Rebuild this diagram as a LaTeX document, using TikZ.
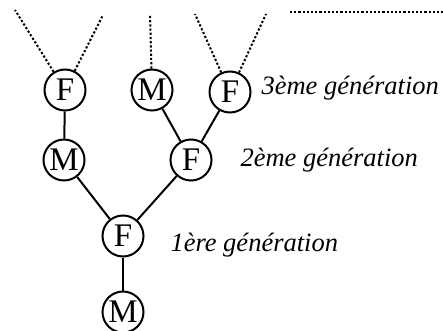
\documentclass[tikz,border=0pt]{standalone}
\usepackage{fontspec}
\setmainfont{Liberation Serif}
\begin{document}
\begin{tikzpicture}[x=1pt,y=1pt,
  person/.style={circle,draw,line width=2pt,minimum size=41pt,inner sep=0pt,font=\fontsize{33}{34}\selectfont},
  link/.style={line width=2pt},
  dotline/.style={line width=2pt,dash pattern=on 2.2pt off 2pt},
  gen/.style={font=\itshape\fontsize{26.5}{28}\selectfont,anchor=west}]
\useasboundingbox (0,0) rectangle (443,330);
\node[person] (f3a) at (65,240) {F};
\node[person] (m3) at (152,240) {M};
\node[person] (f3b) at (230,238) {F};
\node[person] (m2) at (64,170) {M};
\node[person] (f2) at (191,170) {F};
\node[person] (f1) at (123,94) {F};
\node[person] (m0) at (123,18) {M};
\draw[link] (f3a) -- (m2);
\draw[link] (m3) -- (f2);
\draw[link] (f3b) -- (f2);
\draw[link] (m2) -- (f1);
\draw[link] (f2) -- (f1);
\draw[link] (f1) -- (m0);
\coordinate (a1) at (15,320);
\coordinate (a2) at (103,315);
\coordinate (b1) at (150,316);
\coordinate (c1) at (195,316);
\coordinate (c2) at (266,316);
\coordinate (h1) at (290,318);
\coordinate (h2) at (443,318);
\draw[dotline] (f3a) -- (a1);
\draw[dotline] (f3a) -- (a2);
\draw[dotline] (m3) -- (b1);
\draw[dotline] (f3b) -- (c1);
\draw[dotline] (f3b) -- (c2);
\draw[dotline] (h1) -- (h2);
\node[gen] (g3) at (258,242) {3ème génération};
\node[gen] (g2) at (237,170) {2ème génération};
\node[gen] (g1) at (167,85) {1ère génération};
\end{tikzpicture}
\end{document}
